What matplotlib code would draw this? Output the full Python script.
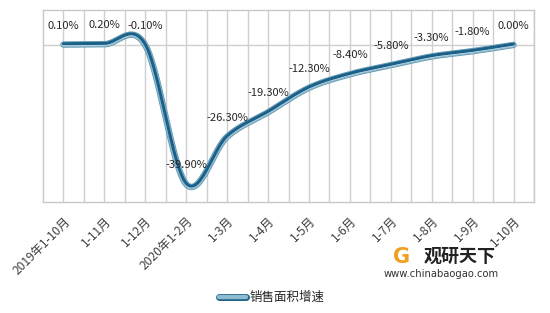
import numpy as np
import matplotlib
matplotlib.use("Agg")
import matplotlib.pyplot as plt
import matplotlib.patheffects as pe
import matplotlib.transforms as mtrans

plt.rcParams['font.family'] = ['Noto Sans CJK SC', 'DejaVu Sans']

categories = ['2019年1-10月', '1-11月', '1-12月', '2020年1-2月', '1-3月', '1-4月',
              '1-5月', '1-6月', '1-7月', '1-8月', '1-9月', '1-10月']
values = [0.1, 0.2, -0.1, -39.9, -26.3, -19.3, -12.3, -8.4, -5.8, -3.3, -1.8, 0.0]
labels = ['0.10%', '0.20%', '-0.10%', '-39.90%', '-26.30%', '-19.30%', '-12.30%',
          '-8.40%', '-5.80%', '-3.30%', '-1.80%', '0.00%']
series_name = '销售面积增速'

fig = plt.figure(figsize=(5.5, 3.13), dpi=100)
ax = fig.add_axes([43/550, 1-202/313, (534-43)/550, (202-10)/313])

x = np.arange(len(values), dtype=float)
y = np.array(values, dtype=float)

# Excel-like smoothed line (Catmull-Rom Bezier) drawn through the data points
def smooth(xs, ys, n=30):
    P = np.column_stack([xs, ys])
    out = []
    m = len(P)
    for i in range(m - 1):
        p0 = P[i - 1] if i > 0 else P[i]
        p1 = P[i]
        p2 = P[i + 1]
        p3 = P[i + 2] if i + 2 < m else P[i + 1]
        c1 = p1 + (p2 - p0) / 6
        c2 = p2 - (p3 - p1) / 6
        t = np.linspace(0, 1, n)[:, None]
        seg = (1-t)**3*p1 + 3*(1-t)**2*t*c1 + 3*(1-t)*t**2*c2 + t**3*p2
        out.append(seg if i == 0 else seg[1:])
    s = np.vstack(out)
    return s[:, 0], s[:, 1]

sx, sy = smooth(x, y)
dark = '#1A6088'
light = '#8DBBD0'
ax.plot(sx, sy, color=light, lw=3.6, solid_capstyle='round', zorder=3,
        path_effects=[pe.withStroke(linewidth=4.6, foreground='#5F95B0')])
ax.plot(sx, sy, color='white', lw=1.6, solid_capstyle='round', zorder=4)
ax.plot(sx, sy, color=dark, lw=2.2, solid_capstyle='round', zorder=5,
        transform=ax.transData + mtrans.ScaledTranslation(0, 0.8/100, fig.dpi_scale_trans))

for xi, yi, lab in zip(x, y, labels):
    ax.annotate(lab, (xi, yi), xytext=(0, 10), textcoords='offset points',
                ha='center', va='bottom', fontsize=8, color='#262626', zorder=6)

ax.set_xlim(-0.5, len(values) - 0.5)
ax.set_ylim(-45, 10)
for gx in np.arange(0, len(values) - 0.4, 0.5):
    ax.axvline(gx, color='#CFCFCF', lw=1, zorder=1)
ax.axhline(0, color='#CFCFCF', lw=1, zorder=1)
for s in ax.spines.values():
    s.set_color('#C8C8C8')
    s.set_linewidth(1)
ax.set_yticks([])
ax.set_xticks(x)
ax.set_xticklabels(categories, rotation=45, ha='right', va='top',
                   rotation_mode='anchor', fontsize=8.7, color='#404040')
ax.tick_params(axis='x', length=0, pad=9)

# legend
lx0, lx1, ly = 219/550, 246/550, 1-297/313
fig.add_artist(plt.Line2D([lx0, lx1], [ly, ly], transform=fig.transFigure,
                          color=light, lw=3.2, solid_capstyle='round',
                          path_effects=[pe.withStroke(linewidth=5.0, foreground=dark)]))
fig.text(250/550, ly, series_name, fontsize=9, va='center', ha='left', color='#262626')

# watermark
fig.text(424/550, 1-256/313, '观研天下', fontsize=13, fontweight='bold', color='#222222',
         va='center', ha='left')
fig.text(384/550, 1-274/313, 'www.chinabaogao.com', fontsize=7.2, color='#333333',
         va='center', ha='left', family='DejaVu Sans')
fig.text(402/550, 1-257/313, 'G', fontsize=15, fontweight='bold', color='#F0A020',
         va='center', ha='center', family='DejaVu Sans')

fig.savefig('out.png', dpi=100)
